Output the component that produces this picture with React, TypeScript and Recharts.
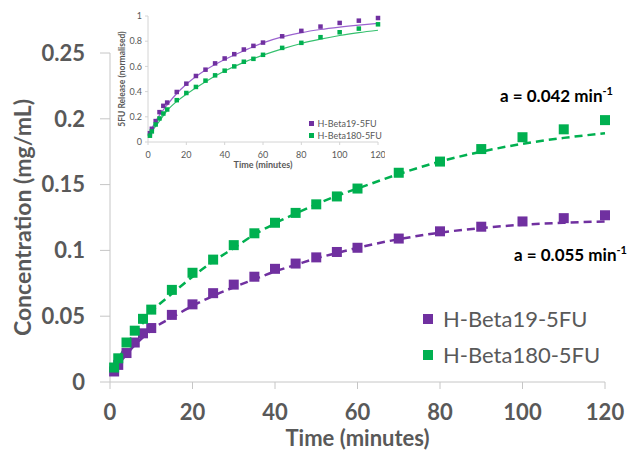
import React from "react";
import { ComposedChart, Line, XAxis, YAxis } from "recharts";

// sampling times (minutes)
const time = [1, 2, 4, 6, 8, 10, 15, 20, 25, 30, 35, 40, 45, 50, 55, 60, 70, 80, 90, 100, 110, 120];

// main chart: concentration (mg/mL)
const beta19Conc = [0.008, 0.013, 0.022, 0.03, 0.037, 0.041, 0.051, 0.059, 0.0675, 0.074, 0.08, 0.086, 0.09, 0.0947, 0.0988, 0.102, 0.109, 0.1145, 0.118, 0.122, 0.1245, 0.1267];
const beta180Conc = [0.011, 0.018, 0.03, 0.039, 0.048, 0.055, 0.07, 0.083, 0.093, 0.104, 0.113, 0.121, 0.1285, 0.135, 0.141, 0.147, 0.159, 0.1675, 0.177, 0.186, 0.192, 0.199];
const beta19Fit = [0.008, 0.013, 0.021, 0.028, 0.034, 0.0395, 0.049, 0.0578, 0.0654, 0.072, 0.078, 0.084, 0.089, 0.094, 0.098, 0.102, 0.1085, 0.1135, 0.117, 0.1195, 0.121, 0.122];
const beta180Fit = [0.011, 0.017, 0.028, 0.037, 0.045, 0.053, 0.067, 0.08, 0.0916, 0.1018, 0.112, 0.1205, 0.128, 0.135, 0.1415, 0.147, 0.158, 0.1675, 0.175, 0.181, 0.1855, 0.189];

// inset: normalised release
const beta19Norm = [0.07, 0.105, 0.166, 0.237, 0.287, 0.313, 0.397, 0.463, 0.524, 0.574, 0.624, 0.663, 0.697, 0.734, 0.763, 0.789, 0.839, 0.882, 0.916, 0.945, 0.963, 0.984];
const beta180Norm = [0.05, 0.084, 0.139, 0.187, 0.226, 0.258, 0.332, 0.389, 0.437, 0.487, 0.529, 0.566, 0.6, 0.637, 0.66, 0.692, 0.747, 0.787, 0.832, 0.871, 0.9, 0.934];
const insetFitTime = [0, 5, 10, 15, 20, 30, 40, 50, 60, 70, 80, 90, 100, 110, 120];
const beta19NormFit = [0.05, 0.19, 0.295, 0.385, 0.458, 0.571, 0.655, 0.724, 0.787, 0.834, 0.868, 0.893, 0.912, 0.928, 0.942];
const beta180NormFit = [0.045, 0.145, 0.25, 0.322, 0.379, 0.479, 0.563, 0.632, 0.689, 0.739, 0.782, 0.816, 0.845, 0.868, 0.887];

const xTicks = [0, 20, 40, 60, 80, 100, 120];
const yTicks = [0, 0.05, 0.1, 0.15, 0.2, 0.25];
const insetYTicks = [0, 0.2, 0.4, 0.6, 0.8, 1];

const seriesNames = ["H-Beta19-5FU", "H-Beta180-5FU"];
const rateLabels = ["a = 0.055 min", "a = 0.042 min"];

const PURPLE = "#7030A0";
const GREEN = "#00B050";
const PURPLE_LIGHT = "#9b62cf";
const GREEN_LIGHT = "#35c06e";
const GREY = "#595959";
const AXIS = "#c6c6c6";
const FONT = "Lato, 'Open Sans', sans-serif";

const mainData = time.map((t, i) => ({
  t,
  b19: beta19Conc[i],
  b180: beta180Conc[i],
  fit19: beta19Fit[i],
  fit180: beta180Fit[i],
}));

const insetData = time.map((t, i) => ({ t, b19: beta19Norm[i], b180: beta180Norm[i] }));
const insetFit19 = insetFitTime.map((t, i) => ({ t, v: beta19NormFit[i] }));
const insetFit180 = insetFitTime.map((t, i) => ({ t, v: beta180NormFit[i] }));

const squareDot = (size: number, color: string) => (props: any) => {
  const { cx, cy, index } = props;
  if (cx == null || cy == null) return <g key={"d" + index} />;
  return <rect key={"d" + index} x={cx - size / 2} y={cy - size / 2} width={size} height={size} fill={color} />;
};

function RateLabel({ text, left, top }: { text: string; left: number; top: number }) {
  return (
    <div style={{ position: "absolute", left, top, fontFamily: FONT, fontWeight: 700, fontSize: 17, lineHeight: "17px", color: "#000", whiteSpace: "nowrap" }}>
      {text}
      <span style={{ fontSize: 11, position: "relative", top: -7 }}>-1</span>
    </div>
  );
}

function LegendRow({ color, text, left, top, box, size, gap }: { color: string; text: string; left: number; top: number; box: number; size: number; gap: number }) {
  return (
    <div style={{ position: "absolute", left, top, display: "flex", alignItems: "center", fontFamily: FONT, fontSize: size, lineHeight: size + "px", color: GREY, whiteSpace: "nowrap" }}>
      <span style={{ display: "inline-block", width: box, height: box, background: color, marginRight: gap }} />
      {text}
    </div>
  );
}

export default function App() {
  return (
    <div style={{ position: "absolute", left: 0, top: 0, width: 636, height: 451, background: "#fff", overflow: "hidden" }}>
      <ComposedChart width={636} height={451} data={mainData} margin={{ top: 53, right: 31, bottom: 0, left: 0 }}>
        <XAxis
          type="number"
          dataKey="t"
          domain={[0, 120]}
          ticks={xTicks}
          height={69}
          stroke={AXIS}
          tickSize={7}
          tickMargin={15}
          tick={{ fill: GREY, fontSize: 22, fontWeight: 700, fontFamily: FONT }}
          label={(p: any) => (
            <text x={p.viewBox.x + p.viewBox.width / 2} y={446} textAnchor="middle" fill={GREY} fontSize={22} fontWeight={700} fontFamily={FONT}>
              Time (minutes)
            </text>
          )}
        />
        <YAxis
          type="number"
          domain={[0, 0.25]}
          ticks={yTicks}
          width={110}
          stroke={AXIS}
          tickSize={10}
          tickMargin={15}
          tick={{ fill: GREY, fontSize: 22, fontWeight: 700, fontFamily: FONT }}
          label={(p: any) => {
            const cy = p.viewBox.y + p.viewBox.height / 2;
            return (
              <text x={22} y={cy} transform={`rotate(-90 22 ${cy})`} textAnchor="middle" dominantBaseline="central" fill={GREY} fontSize={23} fontWeight={700} fontFamily={FONT}>
                Concentration (mg/mL)
              </text>
            );
          }}
        />
        <Line dataKey="fit180" type="monotone" stroke={GREEN} strokeWidth={2.5} strokeDasharray="8 5" dot={false} activeDot={false} isAnimationActive={false} />
        <Line dataKey="fit19" type="monotone" stroke={PURPLE} strokeWidth={2.5} strokeDasharray="8 5" dot={false} activeDot={false} isAnimationActive={false} />
        <Line dataKey="b19" stroke="none" dot={squareDot(10, PURPLE)} activeDot={false} isAnimationActive={false} />
        <Line dataKey="b180" stroke="none" dot={squareDot(10, GREEN)} activeDot={false} isAnimationActive={false} />
      </ComposedChart>

      <div style={{ position: "absolute", left: 105, top: 0 }}>
        <ComposedChart width={280} height={175} data={insetData} margin={{ top: 16, right: 7, bottom: 0, left: 0 }}>
          <XAxis
            type="number"
            dataKey="t"
            domain={[0, 120]}
            ticks={xTicks}
            height={33}
            stroke="#d4d4d4"
            tickSize={3}
            tickMargin={7}
            tick={{ fill: GREY, fontSize: 9, fontFamily: FONT }}
            label={(p: any) => (
              <text x={p.viewBox.x + p.viewBox.width / 2} y={168} textAnchor="middle" fill={GREY} fontSize={9} fontWeight={700} fontFamily={FONT}>
                Time (minutes)
              </text>
            )}
          />
          <YAxis
            type="number"
            domain={[0, 1]}
            ticks={insetYTicks}
            width={43}
            stroke="#d4d4d4"
            tickSize={3}
            tickMargin={3}
            tick={{ fill: GREY, fontSize: 9, fontFamily: FONT }}
            label={(p: any) => {
              const cy = p.viewBox.y + p.viewBox.height / 2;
              return (
                <text x={17} y={cy} transform={`rotate(-90 17 ${cy})`} textAnchor="middle" dominantBaseline="central" fill={GREY} fontSize={8.5} fontWeight={700} fontFamily={FONT}>
                  5FU Release (normalised)
                </text>
              );
            }}
          />
          <Line data={insetFit19} dataKey="v" type="monotone" stroke={PURPLE_LIGHT} strokeWidth={1.2} dot={false} activeDot={false} isAnimationActive={false} />
          <Line data={insetFit180} dataKey="v" type="monotone" stroke={GREEN_LIGHT} strokeWidth={1.2} dot={false} activeDot={false} isAnimationActive={false} />
          <Line dataKey="b19" stroke="none" dot={squareDot(4.5, PURPLE)} activeDot={false} isAnimationActive={false} />
          <Line dataKey="b180" stroke="none" dot={squareDot(4.5, GREEN)} activeDot={false} isAnimationActive={false} />
        </ComposedChart>
      </div>

      <LegendRow color={PURPLE} text={seriesNames[0]} left={309} top={119} box={4.5} size={9} gap={4} />
      <LegendRow color={GREEN} text={seriesNames[1]} left={309} top={131} box={4.5} size={9} gap={4} />

      <LegendRow color={PURPLE} text={seriesNames[0]} left={423} top={308} box={10} size={22} gap={10} />
      <LegendRow color={GREEN} text={seriesNames[1]} left={423} top={344} box={10} size={22} gap={10} />

      <RateLabel text={rateLabels[1]} left={500} top={87} />
      <RateLabel text={rateLabels[0]} left={514} top={246} />
    </div>
  );
}
